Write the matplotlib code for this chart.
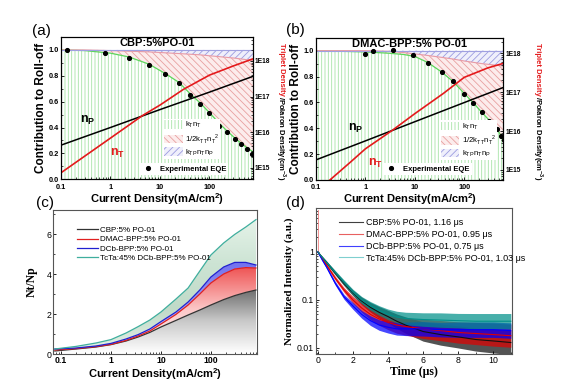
import numpy as np
import matplotlib
matplotlib.use('Agg')
import matplotlib.pyplot as plt
from matplotlib.patches import Patch
from matplotlib.lines import Line2D
from matplotlib.colors import LinearSegmentedColormap
from matplotlib.ticker import LogLocator, NullFormatter, MultipleLocator

plt.rcParams['font.family'] = ['Liberation Sans', 'DejaVu Sans']
plt.rcParams['mathtext.fontset'] = 'custom'
plt.rcParams['mathtext.rm'] = 'Liberation Sans'
plt.rcParams['mathtext.bf'] = 'Liberation Sans:bold'
plt.rcParams['hatch.linewidth'] = 0.6
plt.rcParams['xtick.direction'] = 'in'
plt.rcParams['ytick.direction'] = 'in'
plt.rcParams['axes.linewidth'] = 0.8

# ---------------- data: panel (a) ----------------
J_a = [0.1, 0.3, 1, 2.4, 6, 12.5, 24, 40, 65, 100, 160, 230, 320, 440, 580, 760]
green_a = [1.0, 0.995, 0.975, 0.945, 0.89, 0.82, 0.75, 0.665, 0.59, 0.515, 0.43, 0.372, 0.322, 0.278, 0.243, 0.212]
pink_a = [1.0, 1.0, 0.995, 0.99, 0.985, 0.978, 0.972, 0.967, 0.962, 0.955, 0.948, 0.942, 0.937, 0.93, 0.924, 0.918]
Jeqe_a = [0.13, 0.77, 2.4, 6.0, 12.5, 24, 40, 65, 99, 158, 229, 323, 435, 582, 742]
eqe_a = [1.0, 0.977, 0.941, 0.887, 0.813, 0.746, 0.651, 0.585, 0.513, 0.413, 0.364, 0.315, 0.272, 0.233, 0.197]
JnP_a = [0.1, 1, 10, 100, 760]
nP_a = [4.3e15, 1.35e16, 4.3e16, 1.33e17, 3.7e17]
JnT_a = [0.1, 1, 4.4, 10, 30, 100, 300, 760]
nT_a = [7.2e14, 6.8e15, 2.9e16, 5.75e16, 1.6e17, 4.0e17, 7.2e17, 1.15e18]

# ---------------- data: panel (b) ----------------
J_b = [0.1, 1, 3, 6, 10, 18, 35, 60, 100, 150, 225, 325, 455, 550, 620]
green_b = [1.0, 0.99, 0.98, 0.97, 0.955, 0.91, 0.835, 0.76, 0.67, 0.6, 0.525, 0.46, 0.4, 0.345, 0.31]
pink_b = [1.0, 1.0, 0.995, 0.985, 0.975, 0.963, 0.948, 0.935, 0.92, 0.91, 0.9, 0.893, 0.887, 0.883, 0.88]
Jeqe_b = [1.0, 1.45, 3.7, 9.1, 18.3, 35, 59, 100, 150, 225, 325, 455, 550, 630]
eqe_b = [0.974, 1.0, 1.005, 0.967, 0.908, 0.838, 0.764, 0.667, 0.597, 0.523, 0.459, 0.397, 0.341, 0.308]
JnP_b = [0.1, 1, 10, 100, 620]
nP_b = [1.82e15, 5.6e15, 1.74e16, 5.4e16, 1.32e17]
JnT_b = [0.1, 0.19, 0.5, 1, 3.6, 10, 38, 100, 300, 620]
nT_b = [2.7e14, 5.5e14, 1.6e15, 3.5e15, 1.07e16, 2.8e16, 9.3e16, 2.4e17, 4.2e17, 5.5e17]

# ---------------- data: panel (c) ----------------
J_c = [0.075, 0.2, 0.5, 1, 2, 3.5, 6, 10, 20, 35, 60, 100, 180, 300, 500, 800]
ratio_cbp = [0.15, 0.25, 0.35, 0.47, 0.65, 0.85, 1.08, 1.35, 1.68, 1.95, 2.2, 2.45, 2.72, 2.92, 3.08, 3.2]
ratio_dmac = [0.2, 0.27, 0.37, 0.48, 0.68, 0.9, 1.15, 1.5, 1.98, 2.45, 3.0, 3.55, 4.0, 4.25, 4.32, 4.3]
ratio_dcb = [0.25, 0.3, 0.4, 0.53, 0.75, 0.97, 1.25, 1.62, 2.1, 2.6, 3.2, 3.85, 4.35, 4.58, 4.58, 4.45]
ratio_tcta = [0.25, 0.38, 0.55, 0.72, 1.05, 1.37, 1.7, 2.1, 2.75, 3.3, 4.15, 4.95, 5.55, 5.98, 6.35, 6.72]
labels_c = ['CBP:5% PO-01', 'DMAC-BPP:5% PO-01', 'DCb-BPP:5% PO-01', 'TcTa:45% DCb-BPP:5% PO-01']

# ---------------- data: panel (d) ----------------
t_d = [0, 0.25, 0.5, 1, 1.5, 2, 2.5, 3, 3.5, 4, 4.5, 5, 6, 7, 8, 9, 10, 11]
I_cbp = [1, 0.77, 0.6, 0.36, 0.22, 0.14, 0.095, 0.07, 0.055, 0.045, 0.036, 0.03, 0.022, 0.019, 0.017, 0.015, 0.014, 0.013]
I_dmac = [1, 0.72, 0.53, 0.28, 0.16, 0.1, 0.068, 0.05, 0.04, 0.034, 0.03, 0.028, 0.025, 0.023, 0.021, 0.02, 0.019, 0.018]
I_dcb = [1, 0.68, 0.48, 0.22, 0.115, 0.075, 0.05, 0.037, 0.03, 0.027, 0.025, 0.025, 0.025, 0.024, 0.024, 0.024, 0.024, 0.023]
I_tcta = [1, 0.77, 0.6, 0.37, 0.23, 0.145, 0.1, 0.075, 0.06, 0.05, 0.044, 0.041, 0.039, 0.038, 0.037, 0.036, 0.036, 0.036]
# noise envelope half-width (decades)
hw_cbp = [0, 0.02, 0.03, 0.04, 0.05, 0.06, 0.08, 0.1, 0.12, 0.13, 0.15, 0.17, 0.2, 0.22, 0.23, 0.24, 0.25, 0.25]
hw_dmac = [0, 0.02, 0.03, 0.04, 0.05, 0.07, 0.09, 0.11, 0.13, 0.15, 0.17, 0.18, 0.2, 0.21, 0.22, 0.23, 0.24, 0.24]
hw_dcb = [0, 0.02, 0.03, 0.04, 0.05, 0.07, 0.08, 0.1, 0.11, 0.12, 0.13, 0.14, 0.15, 0.15, 0.16, 0.16, 0.16, 0.16]
hw_tcta = [0, 0.02, 0.03, 0.04, 0.05, 0.06, 0.07, 0.09, 0.1, 0.11, 0.12, 0.13, 0.14, 0.15, 0.15, 0.16, 0.16, 0.16]
labels_d = ['CBP:5% PO-01, 1.16 \u03bcs', 'DMAC-BPP:5% PO-01, 0.95 \u03bcs',
            'DCb-BPP:5% PO-01, 0.75 \u03bcs', 'TcTa:45% DCb-BPP:5% PO-01, 1.03 \u03bcs']

W, H = 572, 391
fig = plt.figure(figsize=(W / 100, H / 100), dpi=100)


def rect(l, t, r, b):
    return [l / W, 1 - b / H, (r - l) / W, (b - t) / H]


GREEN_H = '#a6e4a6'
GREEN_L = '#5cd65c'
PINK_BG = '#fcecec'
RED_H = '#e8a0a0'
PINK_L = '#e89aa6'
BLUE_BG = '#efeffb'
BLUE_H = '#9c9ce0'
RED = '#e41a1c'


def roll_panel(rc, J, green, pink, Jeqe, eqe, JnP, nP, JnT, nT, title, xlim, ylim2,
               np_pos, nt_pos, leg1_anchor, leg2_anchor):
    ax = fig.add_axes(rect(*rc))
    ax.set_xscale('log')
    ax.set_xlim(*xlim)
    ax.set_ylim(0, 1.1)
    ax.fill_between(J, 0, green, facecolor='white', edgecolor=GREEN_H, hatch='|||||', lw=0)
    ax.fill_between(J, green, pink, facecolor=PINK_BG, edgecolor=RED_H, hatch='\\\\\\\\\\', lw=0)
    ax.fill_between(J, pink, [1.0] * len(J), facecolor=BLUE_BG, edgecolor=BLUE_H, hatch='/////', lw=0)
    ax.plot(J, green, color=GREEN_L, lw=0.9)
    ax.plot(J, pink, color=PINK_L, lw=0.8)
    ax.plot(J, [1.0] * len(J), color='#a0a0e0', lw=0.8)
    ax.set_xticks([0.1, 1, 10, 100], ['0.1', '1', '10', '100'], fontweight='bold', fontsize=5.3)
    ax.xaxis.set_minor_locator(LogLocator(base=10, subs=np.arange(2, 10)))
    ax.xaxis.set_minor_formatter(NullFormatter())
    ax.set_yticks([0, 0.2, 0.4, 0.6, 0.8, 1.0], ['0.0', '0.2', '0.4', '0.6', '0.8', '1.0'],
                  fontweight='bold', fontsize=5.3)
    ax.yaxis.set_minor_locator(MultipleLocator(0.1))
    ax.tick_params(which='major', length=2.5, width=0.6, pad=1.5)
    ax.tick_params(axis='x', which='major', pad=3.2)
    ax.tick_params(which='minor', length=1.3, width=0.5)
    ax.set_ylabel('Contribution to Roll-off', fontsize=8.5, fontweight='bold', labelpad=1)
    ax.set_xlabel('Current Density(mA/cm$^{\\mathregular{2}}$)', fontsize=8, fontweight='bold', labelpad=0)

    ax2 = ax.twinx()
    ax2.set_yscale('log')
    ax2.set_ylim(*ylim2)
    ax2.plot(JnP, nP, color='black', lw=1.1)
    ax2.plot(JnT, nT, color=RED, lw=1.2)
    ax2.plot(Jeqe, eqe, 'o', color='black', ms=2.7, transform=ax.transData, zorder=5)
    ax2.set_yticks([1e15, 1e16, 1e17, 1e18], ['1E15', '1E16', '1E17', '1E18'], fontweight='bold', fontsize=4.8)
    ax2.yaxis.set_minor_locator(LogLocator(base=10, subs=np.arange(2, 10), numticks=20))
    ax2.yaxis.set_minor_formatter(NullFormatter())
    ax2.tick_params(which='major', length=2.5, width=0.6, pad=1.5)
    ax2.tick_params(which='minor', length=1.3, width=0.5)
    ax2.text(0.5, 0.958, title, transform=ax.transAxes, ha='center', va='center',
             fontsize=8, fontweight='bold')
    ax2.text(np_pos[0], np_pos[1], 'n$_{\\mathregular{P}}$', transform=ax.transData,
             fontsize=9, fontweight='bold', color='black', va='center')
    ax2.text(nt_pos[0], nt_pos[1], 'n$_{\\mathregular{T}}$', transform=ax.transData,
             fontsize=9, fontweight='bold', color=RED, va='center')
    h1 = [Patch(facecolor='white', edgecolor=GREEN_H, hatch='|||||', lw=0),
          Patch(facecolor=PINK_BG, edgecolor=RED_H, hatch='\\\\\\\\\\', lw=0),
          Patch(facecolor=BLUE_BG, edgecolor=BLUE_H, hatch='/////', lw=0)]
    l1 = ['k$_{\\mathregular{T}}$n$_{\\mathregular{T}}$',
          '1/2k$_{\\mathregular{TT}}$n$_{\\mathregular{T}}$$^{\\mathregular{2}}$',
          'k$_{\\mathregular{TP}}$n$_{\\mathregular{T}}$n$_{\\mathregular{P}}$']
    leg1 = ax2.legend(h1, l1, loc='upper left', bbox_to_anchor=leg1_anchor, frameon=True,
                      fancybox=False, framealpha=1, edgecolor='none', fontsize=5.6,
                      handlelength=2.4, handleheight=1.3, labelspacing=0.2, borderpad=0.15,
                      handletextpad=0.3, borderaxespad=0)
    ax2.add_artist(leg1)
    h2 = [Line2D([], [], ls='none', marker='o', color='black', ms=2.7)]
    ax2.legend(h2, ['Experimental EQE'], loc='lower left', bbox_to_anchor=leg2_anchor,
               frameon=True, fancybox=False, framealpha=1, edgecolor='none',
               prop={'size': 5.5, 'weight': 'bold'}, handlelength=1.5, borderpad=0.3,
               handletextpad=0.8, borderaxespad=0)
    return ax, ax2


roll_panel((61, 37, 253, 179.3), J_a, green_a, pink_a, Jeqe_a, eqe_a, JnP_a, nP_a, JnT_a, nT_a,
           'CBP:5%PO-01', (0.1, 760), (10 ** 14.674, 10 ** 18.674),
           (0.24, 0.456), (0.98, 0.2), (0.53, 0.425), (0.41, 0.03))
roll_panel((316, 37.7, 503.3, 180), J_b, green_b, pink_b, Jeqe_b, eqe_b, JnP_b, nP_b, JnT_b, nT_b,
           'DMAC-BPP:5% PO-01', (0.1, 620), (10 ** 14.743, 10 ** 18.4),
           (0.45, 0.4), (1.12, 0.13), (0.66, 0.42), (0.358, 0.035))


def right_label(x, ytop):
    t1 = fig.text(x / W, 1 - ytop / H, 'Triplet Density', color=RED, fontsize=5.5,
                  fontweight='bold', rotation=-90, rotation_mode='anchor', ha='left', va='center')
    fig.canvas.draw()
    bb = t1.get_window_extent()
    fig.text(x / W, bb.y0 / fig.bbox.height, '/Polaron Density(cm$^{\\mathregular{-3}}$)', color='black',
             fontsize=5.5, fontweight='bold', rotation=-90, rotation_mode='anchor', ha='left', va='center')


right_label(281, 43)
right_label(538, 43)

# ---------------- panel (c) ----------------
axc = fig.add_axes(rect(53.3, 210, 257.3, 354))
axc.set_xscale('log')
XLIM_C = (0.07, 850)
YLIM_C = (0, 7.2)


def gradient_band(ax, x, lower, upper, stops, y_range, z):
    poly = ax.fill_between(x, lower, upper, facecolor='none', edgecolor='none', lw=0, zorder=z)
    cmap = LinearSegmentedColormap.from_list('g', [np.asarray(s, float) / 255 for s in stops])
    grad = np.linspace(0, 1, 256).reshape(-1, 1)
    im = ax.imshow(grad, cmap=cmap, extent=[x[0], x[-1], y_range[0], y_range[1]], origin='lower',
                   aspect='auto', interpolation='bilinear', zorder=z)
    im.set_clip_path(poly.get_paths()[0], ax.transData)


gradient_band(axc, J_c, [0] * len(J_c), ratio_cbp, [(255, 255, 255), (200, 200, 200), (105, 105, 105)], (0, 3.3), 1)
gradient_band(axc, J_c, ratio_cbp, ratio_dmac, [(255, 250, 250), (252, 200, 200), (238, 80, 80)], (0, 4.4), 1.1)
gradient_band(axc, J_c, ratio_dmac, ratio_dcb, [(215, 215, 250), (160, 160, 245), (110, 110, 238)], (0, 4.7), 1.2)
gradient_band(axc, J_c, ratio_dcb, ratio_tcta, [(228, 242, 231), (192, 218, 200), (205, 228, 212), (230, 243, 234)], (0, 6.8), 1.3)
axc.set_xlim(*XLIM_C)
axc.set_ylim(*YLIM_C)
colors_c = ['#333333', '#e02020', '#2020d0', '#3fae9e']
for r, c, lab in zip([ratio_cbp, ratio_dmac, ratio_dcb, ratio_tcta], colors_c, labels_c):
    axc.plot(J_c, r, color=c, lw=0.9, label=lab, zorder=3)
axc.legend(loc='upper left', bbox_to_anchor=(0.115, 0.885), frameon=False, fontsize=5.8,
           handlelength=2.6, labelspacing=0.2, handletextpad=0.3, borderpad=0, borderaxespad=0)
axc.set_xticks([0.1, 1, 10, 100], ['0.1', '1', '10', '100'], fontweight='bold', fontsize=6.3)
axc.xaxis.set_minor_locator(LogLocator(base=10, subs=np.arange(2, 10)))
axc.xaxis.set_minor_formatter(NullFormatter())
axc.set_yticks([0, 2, 4, 6], ['0', '2', '4', '6'], fontsize=6.3)
axc.yaxis.set_minor_locator(MultipleLocator(1))
axc.tick_params(which='major', length=2.5, width=0.6, pad=1.5)
axc.tick_params(which='minor', length=1.3, width=0.5)
for s in axc.spines.values():
    s.set_color('#555555')
    s.set_zorder(5)
axc.set_xlabel('Current Density(mA/cm$^{\\mathregular{2}}$)', fontsize=8, fontweight='bold', labelpad=1)
axc.set_ylabel('Nt/Np', fontsize=8.5, fontweight='bold', family=['Liberation Serif'], labelpad=6)

# ---------------- panel (d) ----------------
axd = fig.add_axes(rect(316, 208.3, 511.7, 354))
axd.set_yscale('log')
axd.set_xlim(-0.1, 11.05)
axd.set_ylim(0.0075, 8)
axd.plot([0.02, 0.02], [1, 7.5], color='#f08080', lw=0.6)
colors_d = ['#111111', '#e00000', '#0000ff', '#00908a']
for I, hw, c in zip([I_cbp, I_dmac, I_dcb, I_tcta], [hw_cbp, hw_dmac, hw_dcb, hw_tcta], colors_d):
    I = np.asarray(I, float)
    f = 10 ** np.asarray(hw, float)
    axd.fill_between(t_d, I / f, I * f, color=c, alpha=0.72, lw=0)
    axd.plot(t_d, I, color=c, lw=0.8)
hd = [Line2D([], [], color=c, lw=0.8) for c in ['#404040', '#e86060', '#4040ff', '#7fcfcf']]
axd.legend(hd, labels_d, loc='upper left', bbox_to_anchor=(0.115, 0.93), frameon=False, fontsize=6.5,
           handlelength=2.7, labelspacing=0.3, handletextpad=0.4, borderpad=0, borderaxespad=0)
axd.set_xticks([0, 2, 4, 6, 8, 10], ['0', '2', '4', '6', '8', '10'], fontsize=6.3)
axd.xaxis.set_minor_locator(MultipleLocator(1))
axd.set_yticks([0.01, 0.1, 1], ['0.01', '0.1', '1'], fontsize=6.3)
axd.yaxis.set_minor_locator(LogLocator(base=10, subs=np.arange(2, 10), numticks=20))
axd.yaxis.set_minor_formatter(NullFormatter())
axd.tick_params(which='major', length=2.5, width=0.6, pad=1.5)
axd.tick_params(which='minor', length=1.3, width=0.5)
for s in axd.spines.values():
    s.set_color('#555555')
axd.set_xlabel('Time (\u03bcs)', fontsize=8.5, fontweight='bold', family=['Liberation Serif'], labelpad=1)
axd.set_ylabel('Normalized Intensity (a.u.)', fontsize=8, fontweight='bold', family=['Liberation Serif'], labelpad=2)

# panel letters
for lab, x, y in [('(a)', 32, 31), ('(b)', 286, 30), ('(c)', 36, 203), ('(d)', 286, 203)]:
    fig.text(x / W, 1 - y / H, lab, fontsize=11, ha='left', va='center')

fig.savefig('out.png', dpi=100)
